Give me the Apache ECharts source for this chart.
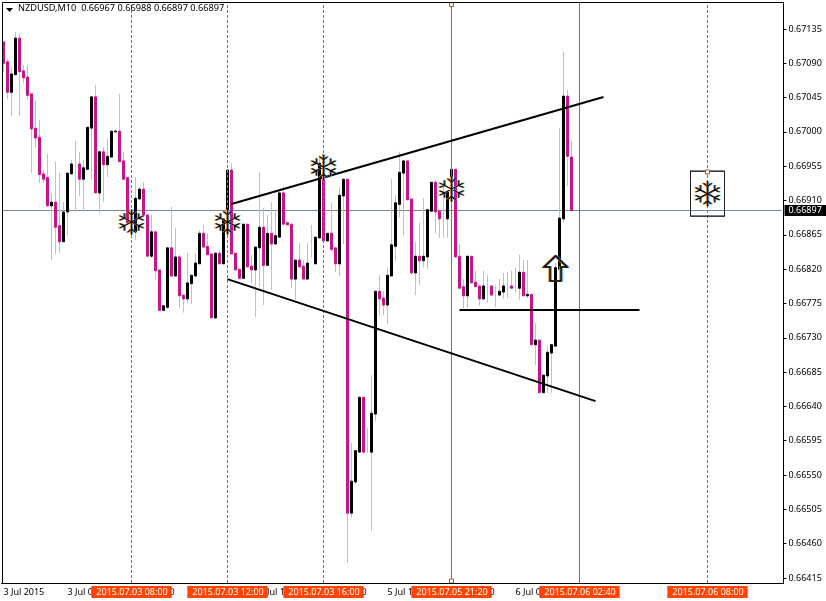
<!DOCTYPE html>
<html><head><meta charset="utf-8">
<style>html,body{margin:0;padding:0;background:#fff}#c{width:826px;height:601px}</style>
<script src="https://cdn.jsdelivr.net/npm/echarts@6/dist/echarts.min.js"></script>
</head><body><div id="c"></div>
<script>
const tickLabels=["3 Jul 2015","3 Jul 05:20","3 Jul 08:00","3 Jul 10:40","3 Jul 13:20","3 Jul 16:00","5 Jul 18:40","5 Jul 21:20","6 Jul 00:00","6 Jul 02:40"];
const priceTicks=[0.67135,0.67090,0.67045,0.67000,0.66955,0.66910,0.66865,0.66820,0.66775,0.66730,0.66685,0.66640,0.66595,0.66550,0.66505,0.66460,0.66415];
const opens=[
0.67118,0.67092,0.67052,0.67075,0.67123,0.67080,0.67072,0.67050,0.67005,0.66993,
0.66945,0.66940,0.66903,0.66908,0.66877,0.66856,0.66895,0.66945,0.66958,0.66958,
0.66938,0.66951,0.67005,0.67046,0.66920,0.66974,0.66957,0.66967,0.67000,0.67001,
0.66962,0.66940,0.66881,0.66869,0.66912,0.66925,0.66891,0.66837,0.66869,0.66819,
0.66766,0.66770,0.66848,0.66811,0.66836,0.66786,0.66781,0.66801,0.66811,0.66827,
0.66867,0.66850,0.66840,0.66756,0.66841,0.66827,0.66885,0.66950,0.66841,0.66820,
0.66808,0.66879,0.66824,0.66819,0.66848,0.66875,0.66825,0.66867,0.66853,0.66862,
0.66920,0.66881,0.66879,0.66807,0.66832,0.66824,0.66807,0.66862,0.66827,0.66861,
0.66959,0.66857,0.66867,0.66848,0.66827,0.66916,0.66938,0.66500,0.66541,0.66580,
0.66652,0.66580,0.66580,0.66630,0.66791,0.66782,0.66773,0.66811,0.66850,0.66905,
0.66946,0.66962,0.66912,0.66815,0.66837,0.66831,0.66836,0.66896,0.66934,0.66896,
0.66886,0.66886,0.66921,0.66951,0.66837,0.66797,0.66785,0.66837,0.66803,0.66798,
0.66781,0.66798,0.66798,0.66785,0.66786,0.66790,0.66798,0.66798,0.66795,0.66795,
0.66816,0.66785,0.66787,0.66721,0.66727,0.66658,0.66680,0.66710,0.66719,0.66820,
0.66886,0.67047,0.66967];
const closes=[
0.67090,0.67052,0.67076,0.67123,0.67079,0.67071,0.67048,0.67004,0.66992,0.66944,
0.66938,0.66903,0.66908,0.66875,0.66856,0.66895,0.66946,0.66958,0.66958,0.66938,
0.66953,0.67006,0.67046,0.66920,0.66974,0.66957,0.66968,0.67001,0.67001,0.66961,
0.66938,0.66881,0.66869,0.66913,0.66925,0.66891,0.66837,0.66869,0.66818,0.66766,
0.66772,0.66848,0.66811,0.66836,0.66785,0.66781,0.66802,0.66812,0.66828,0.66867,
0.66849,0.66839,0.66756,0.66841,0.66827,0.66886,0.66950,0.66840,0.66819,0.66808,
0.66879,0.66823,0.66819,0.66849,0.66875,0.66825,0.66867,0.66853,0.66864,0.66920,
0.66879,0.66878,0.66807,0.66832,0.66823,0.66807,0.66828,0.66862,0.66862,0.66959,
0.66857,0.66867,0.66846,0.66827,0.66917,0.66938,0.66500,0.66542,0.66582,0.66652,
0.66580,0.66580,0.66631,0.66791,0.66781,0.66773,0.66812,0.66852,0.66907,0.66947,
0.66962,0.66911,0.66815,0.66837,0.66831,0.66837,0.66898,0.66934,0.66895,0.66886,
0.66886,0.66921,0.66951,0.66836,0.66795,0.66785,0.66837,0.66802,0.66797,0.66781,
0.66798,0.66798,0.66786,0.66785,0.66791,0.66798,0.66798,0.66795,0.66795,0.66816,
0.66785,0.66787,0.66721,0.66727,0.66658,0.66681,0.66711,0.66721,0.66822,0.66887,
0.67047,0.66968,0.66897];
const highs=[
0.67118,0.67096,0.67085,0.67131,0.67128,0.67088,0.67089,0.67050,0.67041,0.67016,
0.66950,0.66971,0.66919,0.66961,0.66946,0.66908,0.66946,0.66963,0.66988,0.66974,
0.66963,0.67006,0.67046,0.67062,0.66974,0.66980,0.66992,0.67001,0.67004,0.67050,
0.66974,0.66940,0.66881,0.66941,0.66928,0.66934,0.66891,0.66891,0.66869,0.66819,
0.66772,0.66848,0.66902,0.66874,0.66839,0.66786,0.66841,0.66812,0.66841,0.66871,
0.66878,0.66867,0.66840,0.66841,0.66845,0.66886,0.66950,0.66959,0.66841,0.66820,
0.66879,0.66879,0.66839,0.66849,0.66947,0.66900,0.66891,0.66908,0.66898,0.66921,
0.66928,0.66881,0.66879,0.66832,0.66854,0.66832,0.66854,0.66878,0.66862,0.66970,
0.66970,0.66867,0.66908,0.66848,0.66928,0.66938,0.66938,0.66592,0.66582,0.66652,
0.66652,0.66612,0.66681,0.66791,0.66812,0.66791,0.66822,0.66938,0.66917,0.66974,
0.66962,0.66962,0.66912,0.66856,0.66881,0.66913,0.66898,0.66934,0.66937,0.66896,
0.66937,0.66921,0.66951,0.66951,0.66853,0.66807,0.66837,0.66837,0.66818,0.66798,
0.66818,0.66812,0.66798,0.66799,0.66807,0.66815,0.66816,0.66818,0.66822,0.66839,
0.66832,0.66832,0.66787,0.66749,0.66727,0.66681,0.66719,0.66721,0.66828,0.67005,
0.67105,0.67055,0.66988];
const lows=[
0.67079,0.67043,0.67021,0.67075,0.67021,0.67064,0.67042,0.66946,0.66979,0.66933,
0.66933,0.66903,0.66832,0.66840,0.66841,0.66856,0.66864,0.66945,0.66895,0.66916,
0.66895,0.66951,0.66937,0.66920,0.66894,0.66908,0.66941,0.66967,0.67000,0.66961,
0.66938,0.66881,0.66865,0.66858,0.66912,0.66888,0.66837,0.66835,0.66806,0.66766,
0.66766,0.66768,0.66811,0.66811,0.66769,0.66763,0.66776,0.66774,0.66811,0.66827,
0.66849,0.66839,0.66756,0.66755,0.66827,0.66827,0.66885,0.66840,0.66819,0.66808,
0.66808,0.66823,0.66802,0.66757,0.66797,0.66773,0.66825,0.66793,0.66853,0.66862,
0.66879,0.66878,0.66795,0.66780,0.66823,0.66807,0.66807,0.66835,0.66827,0.66861,
0.66857,0.66857,0.66843,0.66816,0.66811,0.66853,0.66435,0.66494,0.66538,0.66580,
0.66579,0.66579,0.66477,0.66621,0.66759,0.66760,0.66748,0.66811,0.66831,0.66888,
0.66865,0.66911,0.66815,0.66786,0.66799,0.66822,0.66820,0.66896,0.66867,0.66861,
0.66861,0.66861,0.66921,0.66836,0.66795,0.66769,0.66769,0.66802,0.66797,0.66772,
0.66781,0.66776,0.66786,0.66770,0.66786,0.66781,0.66782,0.66795,0.66790,0.66780,
0.66785,0.66782,0.66721,0.66694,0.66658,0.66658,0.66658,0.66658,0.66719,0.66820,
0.66881,0.66929,0.66897];
const upperTrend=[[57,0.669055],[150,0.670458]];
const lowerTrend=[[56,0.66807],[148,0.66647]];
const flatLine=[[114,0.667665],[159,0.667665]];
const snowflakes=[[32,0.66882],[56,0.66882],[80,0.66954],[112,0.66925],[176,0.66919]];
const arrowMark=[[138,0.66821]];
const boxMark=[[176,0.66919]];
const handles=[[112,0.67167],[112,0.66411],[176,0.669475]];
const verticals=[[32,"2015.07.03 08:00","dashed"],[56,"2015.07.03 12:00","dashed"],[80,"2015.07.03 16:00","dashed"],[112,"2015.07.05 21:20","solid"],[144,"2015.07.06 02:40","solid"],[176,"2015.07.06 08:00","dashed"]];
const lastPrice=0.66897;
const slotCount=195;

const BULL='#000000',BEAR='#C71585',WICK='#C0C0C0',ORANGE='#FF4500',FONT='"Noto Sans","Liberation Sans",sans-serif';
const categories=Array.from({length:slotCount},(_,i)=>(i%16===0&&tickLabels[i/16])||'');
const wicks=opens.map((o,i)=>[o,closes[i],lows[i],highs[i]]);
const bodies=opens.map((o,i)=>{
  const c=closes[i],item={value:[o,c,Math.min(o,c),Math.max(o,c)]};
  if(o===c) item.itemStyle={opacity:0};
  return item;
});
const SNOW='path://M12 0L12 24M1.6 6L22.4 18M1.6 18L22.4 6M8.5 2L12 5L15.5 2M8.5 22L12 19L15.5 22M18.2 3.6L18.2 8.4L22.4 10.5M5.8 3.6L5.8 8.4L1.6 10.5M18.2 20.4L18.2 15.6L22.4 13.5M5.8 20.4L5.8 15.6L1.6 13.5';
const ARROW='path://M11.5 0L23 11L17 11L17 25L6 25L6 11L0 11Z';
const iconLayer=(name,data,symbol,size,color,offset,width)=>({name,type:'scatter',data,symbol,symbolSize:size,symbolOffset:[offset,0],z:7,clip:false,silent:true,
  itemStyle:{color:'transparent',borderColor:color,borderWidth:width,opacity:1}});
const trend=(name,data)=>({name,type:'line',data,symbol:'none',z:6,silent:true,lineStyle:{color:'#000',width:2}});
const tickInterval=i=>i%16===0&&i<=144;

const chart=echarts.init(document.getElementById('c'),null,{renderer:'canvas'});
chart.setOption({
  animation:false,backgroundColor:'#fff',
  title:{text:'NZDUSD,M10  0.66967 0.66988 0.66897 0.66897',left:18,top:4,padding:0,textStyle:{fontFamily:FONT,fontSize:9.2,fontWeight:'normal',color:'#000'}},
  grid:{left:1.5,top:3,width:780,height:580,containLabel:false},
  xAxis:{type:'category',data:categories,boundaryGap:true,
    axisLine:{lineStyle:{color:'#000'}},
    axisTick:{alignWithLabel:true,interval:tickInterval,length:3,lineStyle:{color:'#000'}},
    axisLabel:{interval:tickInterval,align:'left',margin:5,color:'#000',fontFamily:FONT,fontSize:9,hideOverlap:false,showMinLabel:true,showMaxLabel:false},
    splitLine:{show:false}},
  yAxis:{type:'value',position:'right',offset:2,min:0.664084,max:0.671691,scale:true,
    axisLine:{show:true,lineStyle:{color:'#000'}},
    axisTick:{show:true,length:3,customValues:priceTicks,lineStyle:{color:'#000'}},
    axisLabel:{customValues:priceTicks,margin:5,color:'#000',fontFamily:FONT,fontSize:9,formatter:v=>v.toFixed(5),showMinLabel:true,showMaxLabel:true},
    splitLine:{show:false}},
  graphic:[
    {type:'rect',shape:{x:2.5,y:2.5,width:781,height:581},style:{fill:'none',stroke:'#000',lineWidth:1},z:20,silent:true},
    {type:'polygon',shape:{points:[[6,8],[13,8],[9.5,12]]},style:{fill:'#000'},z:20,silent:true}
  ],
  series:[
    {name:'wicks',type:'candlestick',data:wicks,barWidth:1,z:2,silent:true,
      itemStyle:{color:WICK,color0:WICK,borderColor:WICK,borderColor0:WICK,borderColorDoji:WICK,borderWidth:1},
      markLine:{silent:true,symbol:'none',animation:false,z:1,precision:6,
        lineStyle:{color:'#778899',type:'solid',width:1},
        label:{position:'end',distance:3,formatter:()=>lastPrice.toFixed(5),color:'#fff',backgroundColor:'#000',padding:[2,5,0,4],fontFamily:FONT,fontSize:9},
        data:[{yAxis:lastPrice}]}},
    {name:'bodies',type:'candlestick',data:bodies,barWidth:3,z:3,silent:true,
      itemStyle:{color:BULL,color0:BEAR,borderColor:BULL,borderColor0:BEAR,borderWidth:1},
      markLine:{silent:true,symbol:'none',animation:false,z:5,
        data:verticals.map(v=>({xAxis:v[0],lineStyle:{color:ORANGE,width:1,type:v[2]==='dashed'?[3,2]:'solid'},
          label:{show:true,position:'start',distance:3,formatter:v[1],color:'#fff',backgroundColor:ORANGE,padding:[2,4,1,5],fontFamily:FONT,fontSize:9}}))}},
    trend('upper trend',upperTrend),
    trend('lower trend',lowerTrend),
    trend('flat line',flatLine),
    {name:'box',type:'scatter',data:boxMark,symbol:'rect',symbolSize:[34,45],z:6,silent:true,itemStyle:{color:'transparent',borderColor:'#000',borderWidth:1,opacity:1}},
    iconLayer('snow blue',snowflakes,SNOW,[24,25],'#1E90FF',1,1),
    iconLayer('snow orange',snowflakes,SNOW,[24,25],'#FF8C00',-1,1),
    iconLayer('snow',snowflakes,SNOW,[24,25],'#000',0,1),
    iconLayer('arrow blue',arrowMark,ARROW,[23,25],'#1E90FF',1,1.5),
    iconLayer('arrow orange',arrowMark,ARROW,[23,25],'#FF8C00',-1,1.5),
    iconLayer('arrow',arrowMark,ARROW,[23,25],'#000',0,1.5),
    {name:'handles',type:'scatter',data:handles,symbol:'rect',symbolSize:4,z:8,clip:false,silent:true,itemStyle:{color:'#fff',borderColor:'#B5501F',borderWidth:1,opacity:1}}
  ]
});
</script></body></html>
